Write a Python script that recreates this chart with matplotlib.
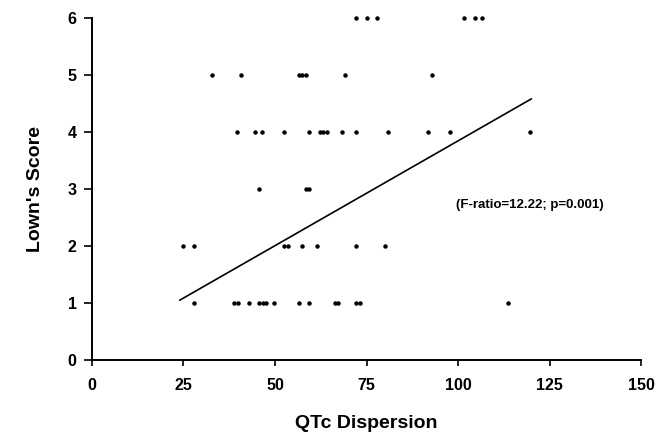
import matplotlib
matplotlib.use("Agg")
import matplotlib.pyplot as plt
import numpy as np

plt.rcParams['font.family'] = ['Liberation Sans', 'DejaVu Sans']

# Scatter data (QTc dispersion, Lown's score)
score6_x = [72.1, 75.1, 77.9, 101.6, 104.6, 106.6]
score5_x = [32.9, 40.8, 56.6, 57.5, 58.5, 69.2, 92.8]
score4_x = [39.7, 44.5, 46.5, 52.5, 59.3, 62.3, 63.2, 64.3, 68.2, 72.0, 80.9, 91.8, 97.7, 119.6]
score3_x = [45.6, 58.5, 59.4]
score2_x = [24.9, 27.9, 52.5, 53.6, 57.4, 61.4, 72.1, 80.1]
score1_x = [27.9, 38.9, 39.8, 42.8, 45.6, 46.6, 47.6, 49.6, 56.6, 59.4, 66.4, 67.3, 72.1, 73.2, 113.7]

groups = [(1, score1_x), (2, score2_x), (3, score3_x), (4, score4_x), (5, score5_x), (6, score6_x)]

# Regression line endpoints
fit_x = [24.0, 120.0]
fit_y = [1.05, 4.58]

x_ticks = [0, 25, 50, 75, 100, 125, 150]
y_ticks = [0, 1, 2, 3, 4, 5, 6]
annotation = "(F-ratio=12.22; p=0.001)"

fig = plt.figure(figsize=(6.57, 4.32), dpi=100)
ax = fig.add_axes([0.140, 0.1667, 0.8357, 0.7916])

xs, ys = [], []
for score, vals in groups:
    xs.extend(vals)
    ys.extend([score] * len(vals))
ax.plot(xs, ys, linestyle='none', marker='o', markersize=2.2, color='black', clip_on=False)

ax.plot(fit_x, fit_y, color='black', linewidth=1.2)

ax.text(119.6, 2.72, annotation, fontsize=9.5, fontweight='bold', ha='center', va='center')

ax.set_xlim(0, 150)
ax.set_ylim(0, 6)
ax.set_xticks(x_ticks)
ax.set_yticks(y_ticks)
ax.tick_params(axis='x', direction='out', length=4, width=1.2, labelsize=11.5, pad=9)
ax.tick_params(axis='y', direction='out', length=6, width=1.2, labelsize=11.5, pad=5)
for lab in ax.get_xticklabels() + ax.get_yticklabels():
    lab.set_fontweight('bold')

ax.spines['top'].set_visible(False)
ax.spines['right'].set_visible(False)
ax.spines['left'].set_linewidth(1.4)
ax.spines['bottom'].set_linewidth(1.4)

ax.set_xlabel("QTc Dispersion", fontsize=14, fontweight='bold', labelpad=16)
ax.set_ylabel("Lown's Score", fontsize=14, fontweight='bold', labelpad=17)

fig.savefig("out.png", dpi=100)
